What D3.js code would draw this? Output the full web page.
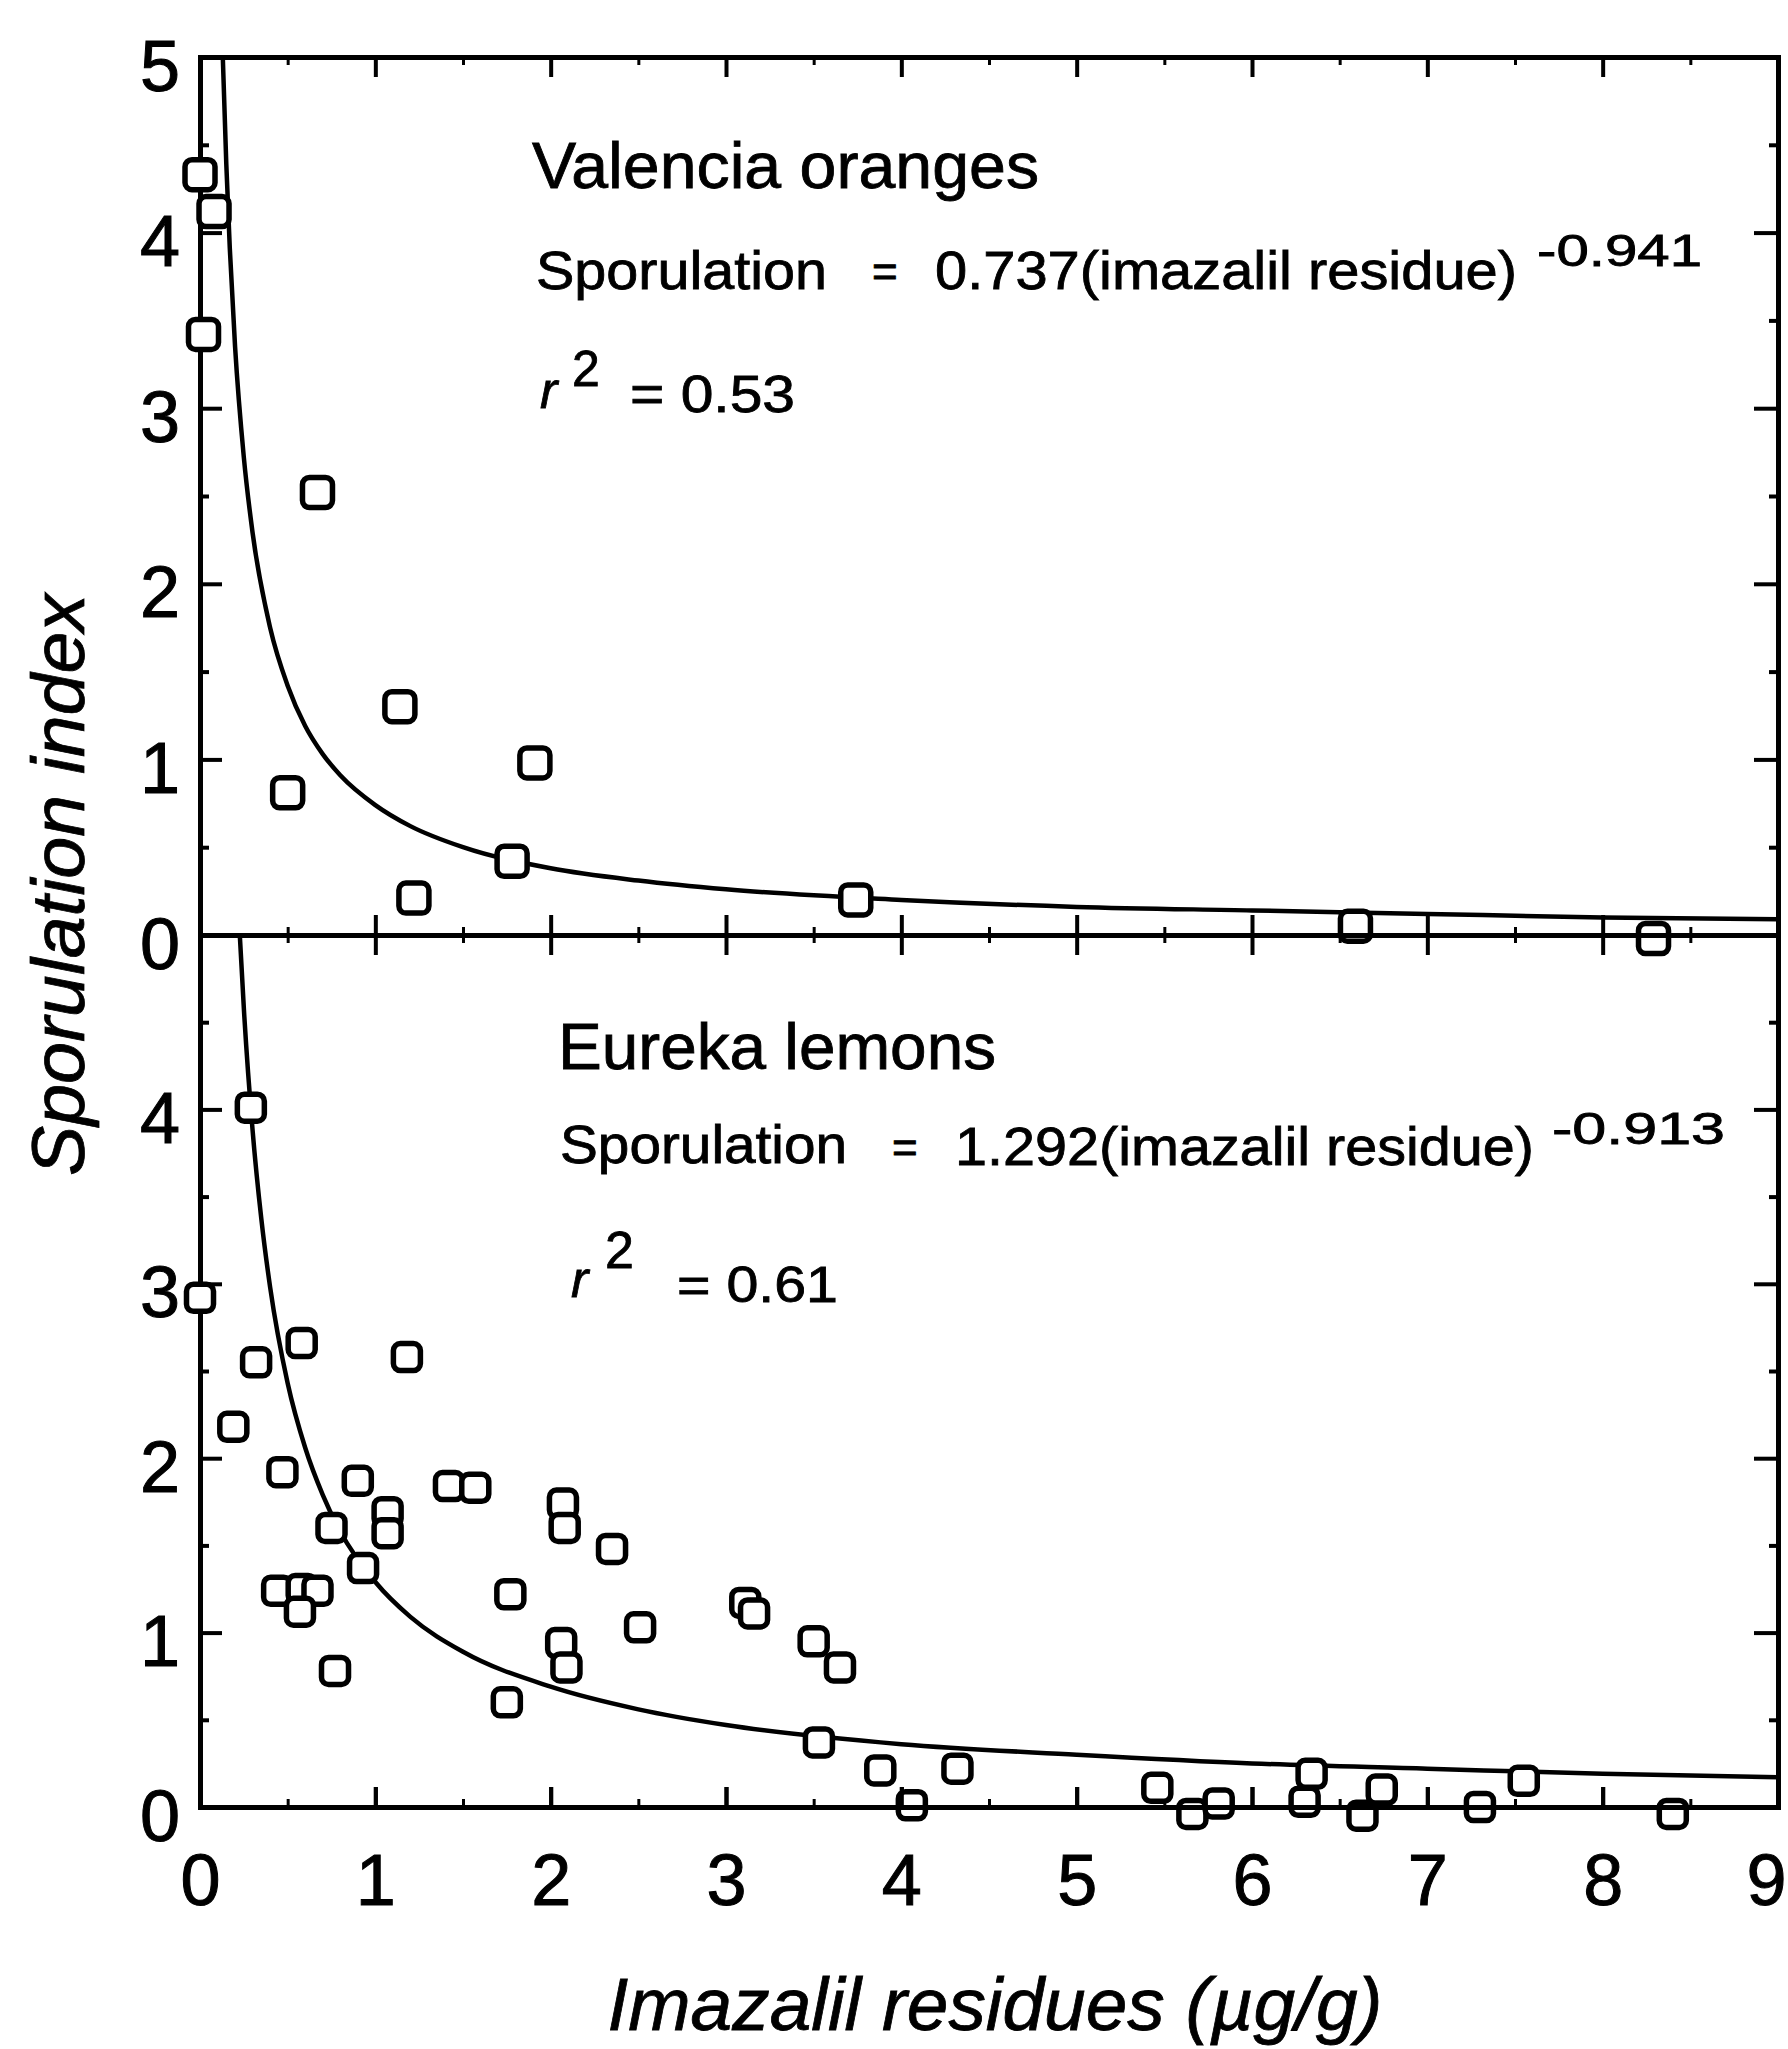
<!DOCTYPE html>
<html>
<head>
<meta charset="utf-8">
<script src="https://cdn.jsdelivr.net/npm/d3@7"></script>
<style>
  body { margin: 0; background: #fff; }
  svg { display: block; }
  .axis path, .axis line { stroke: #000; }
  .axis text { font-family: "Liberation Sans", Arial, sans-serif; fill: #000; stroke: #000; stroke-width: 1; }
  .note { font-family: "Liberation Sans", Arial, sans-serif; fill: #000; stroke: #000; stroke-width: 0.8; }
</style>
</head>
<body>
<script>
// tick values
const xTicks = [0, 1, 2, 3, 4, 5, 6, 7, 8, 9];
const xMinor = [0.5, 1.5, 2.5, 3.5, 4.5, 5.5, 6.5, 7.5, 8.5];
const yTicks = [0, 1, 2, 3, 4, 5];
const yLabelsTop = [0, 1, 2, 3, 4, 5];
const yLabelsBottom = [0, 1, 2, 3, 4];
const yMinor = [0.5, 1.5, 2.5, 3.5, 4.5];

// Valencia oranges (top panel)
const valenciaX = [0.00, 0.08, 0.02, 0.67, 1.14, 1.91, 0.50, 1.78, 1.22, 3.74, 6.59, 8.29];
const valenciaY = [4.33, 4.12, 3.42, 2.52, 1.30, 0.98, 0.81, 0.42, 0.21, 0.20, 0.05, -0.02];
// fitted curve
const valenciaFitX = [0.13, 0.15, 0.17, 0.2, 0.25, 0.3, 0.4, 0.5, 0.6, 0.7, 0.8, 1.0, 1.2, 1.5, 2, 2.5, 3, 4, 5, 6, 7, 8, 9];
const valenciaFitY = [5.0, 4.39, 3.91, 3.35, 2.72, 2.29, 1.75, 1.42, 1.19, 1.03, 0.91, 0.74, 0.62, 0.50, 0.38, 0.31, 0.26, 0.20, 0.16, 0.14, 0.12, 0.10, 0.09];

// Eureka lemons (bottom panel)
const eurekaX = [0.29, 0.00, 0.32, 0.58, 1.18, 0.19, 0.47, 0.90, 1.42, 1.57, 2.07, 2.08, 0.75, 1.07, 1.07,
                 0.93, 0.44, 0.58, 0.67, 0.57, 0.77, 1.77, 2.51, 2.35, 2.06, 2.09, 1.75, 3.11, 3.16, 3.50,
                 3.65, 3.53, 3.88, 4.06, 4.32, 5.46, 5.66, 5.81, 6.34, 6.30, 6.63, 6.74, 7.30, 7.55, 8.40];
const eurekaY = [4.01, 2.92, 2.55, 2.66, 2.58, 2.18, 1.92, 1.87, 1.84, 1.83, 1.74, 1.60, 1.60, 1.69, 1.57,
                 1.37, 1.24, 1.25, 1.24, 1.12, 0.78, 1.22, 1.03, 1.48, 0.94, 0.80, 0.60, 1.17, 1.11, 0.95,
                 0.80, 0.37, 0.21, 0.01, 0.22, 0.11, -0.04, 0.02, 0.19, 0.03, -0.05, 0.10, 0.00, 0.15, -0.04];
const eurekaFitX = [0.227, 0.25, 0.3, 0.35, 0.4, 0.5, 0.6, 0.7, 0.8, 1.0, 1.2, 1.5, 2, 2.5, 3, 4, 5, 6, 7, 8, 9];
const eurekaFitY = [5.0, 4.58, 3.88, 3.37, 2.98, 2.43, 2.06, 1.79, 1.58, 1.29, 1.09, 0.89, 0.69, 0.56, 0.47, 0.36, 0.30, 0.25, 0.22, 0.19, 0.17];

const width = 1788, height = 2049;

let svg = d3.select('body').append('svg')
    .attr('width', width)
    .attr('height', height);

let xScale = d3.scaleLinear().domain([0, 9]).range([200, 1778]);
let yTop = d3.scaleLinear().domain([0, 5]).range([935, 57]);
let yBottom = d3.scaleLinear().domain([0, 5]).range([1807, 935]);

function styleAxis(g, w) {
    g.attr('class', 'axis');
    g.select('.domain').attr('stroke-width', 5);
    g.selectAll('.tick line').attr('stroke-width', w);
}

function panel(yScale, labels, xs, ys, fitX, fitY, size) {
    // left axis with labels
    svg.append('g')
        .attr('transform', 'translate(200,0)')
        .call(d3.axisLeft(yScale).tickValues(labels).tickFormat(d3.format('d'))
                .tickSizeInner(-22).tickSizeOuter(0).tickPadding(20))
        .call(g => styleAxis(g, 4))
        .call(g => g.selectAll('text').attr('font-size', 72).attr('dy', '0.46em'));
    svg.append('g')
        .attr('transform', 'translate(200,0)')
        .call(d3.axisLeft(yScale).tickValues(yMinor).tickSize(-9).tickFormat(''))
        .call(g => styleAxis(g, 4));

    // right axis, ticks only
    svg.append('g')
        .attr('transform', 'translate(1778,0)')
        .call(d3.axisRight(yScale).tickValues(yTicks).tickSizeInner(-24).tickSizeOuter(0).tickFormat(''))
        .call(g => styleAxis(g, 4));
    svg.append('g')
        .attr('transform', 'translate(1778,0)')
        .call(d3.axisRight(yScale).tickValues(yMinor).tickSize(-9).tickFormat(''))
        .call(g => styleAxis(g, 4));

    // top edge, ticks pointing down
    svg.append('g')
        .attr('transform', 'translate(0,' + yScale(5) + ')')
        .call(d3.axisTop(xScale).tickValues(xTicks).tickSizeInner(-20).tickSizeOuter(0).tickFormat(''))
        .call(g => styleAxis(g, 4));
    svg.append('g')
        .attr('transform', 'translate(0,' + yScale(5) + ')')
        .call(d3.axisTop(xScale).tickValues(xMinor).tickSize(-8).tickFormat(''))
        .call(g => styleAxis(g, 3));

    // bottom edge, ticks pointing up
    svg.append('g')
        .attr('transform', 'translate(0,' + yScale(0) + ')')
        .call(d3.axisBottom(xScale).tickValues(xTicks).tickSizeInner(-20).tickSizeOuter(0).tickFormat(''))
        .call(g => styleAxis(g, 4));
    svg.append('g')
        .attr('transform', 'translate(0,' + yScale(0) + ')')
        .call(d3.axisBottom(xScale).tickValues(xMinor).tickSize(-8).tickFormat(''))
        .call(g => styleAxis(g, 3));

    // fitted curve
    let line = d3.line()
        .x(function(d){ return xScale(d[0]); })
        .y(function(d){ return yScale(d[1]); })
        .curve(d3.curveMonotoneX);

    svg.append('path')
        .datum(d3.zip(fitX, fitY))
        .attr('d', line)
        .attr('fill', 'none')
        .attr('stroke', '#000')
        .attr('stroke-width', 4.5);

    // open square markers
    svg.append('g').selectAll('rect')
        .data(d3.zip(xs, ys))
      .enter().append('rect')
        .attr('x', function(d){ return xScale(d[0]) - size / 2; })
        .attr('y', function(d){ return yScale(d[1]) - size / 2; })
        .attr('width', size)
        .attr('height', size)
        .attr('rx', 7)
        .attr('fill', '#fff')
        .attr('stroke', '#000')
        .attr('stroke-width', 5.5);
}

panel(yTop, yLabelsTop, valenciaX, valenciaY, valenciaFitX, valenciaFitY, 30);
panel(yBottom, yLabelsBottom, eurekaX, eurekaY, eurekaFitX, eurekaFitY, 27);

// x tick labels under the lower panel
svg.append('g')
    .attr('transform', 'translate(0,1807)')
    .call(d3.axisBottom(xScale).tickValues(xTicks).tickFormat(d3.format('d'))
            .tickSizeInner(-20).tickSizeOuter(0).tickPadding(47))
    .call(g => styleAxis(g, 4))
    .call(g => g.selectAll('text').attr('font-size', 72))
    // the last label sits at the page edge: keep it inside
    .call(g => g.selectAll('.tick').filter(d => d === 9).select('text')
        .attr('text-anchor', 'end').attr('x', 8));

// annotation text
function note(x, y, str, size, len, italic) {
    let t = svg.append('text')
        .attr('class', 'note')
        .attr('x', x)
        .attr('y', y)
        .attr('font-size', size)
        .text(str);
    if (len) t.attr('textLength', len).attr('lengthAdjust', 'spacingAndGlyphs');
    if (italic) t.attr('font-style', 'italic');
    return t;
}

note(532, 188, 'Valencia oranges', 64, 507);
note(536, 289, 'Sporulation', 53, 291);
note(872, 287, '=', 44);
note(935, 289, '0.737(imazalil residue)', 53, 582);
note(1537, 266, '-0.941', 44, 165);
note(540, 408, 'r', 52, null, true);
note(572, 386, '2', 50);
note(630, 412, '= 0.53', 52, 165);

note(558, 1069, 'Eureka lemons', 64, 438);
note(560, 1163, 'Sporulation', 53, 287);
note(892, 1163, '=', 44);
note(955, 1165, '1.292(imazalil residue)', 53, 579);
note(1552, 1144, '-0.913', 44, 173);
note(571, 1297, 'r', 52, null, true);
note(605, 1268, '2', 52);
note(677, 1302, '=  0.61', 50, 161);

// axis titles
note(995, 2030, 'Imazalil residues (\u00b5g/g)', 74, 775, true)
    .attr('text-anchor', 'middle');

svg.append('text')
    .attr('class', 'note')
    .attr('transform', 'translate(84,885) rotate(-90)')
    .attr('text-anchor', 'middle')
    .attr('font-size', 74)
    .attr('font-style', 'italic')
    .attr('textLength', 582)
    .attr('lengthAdjust', 'spacingAndGlyphs')
    .text('Sporulation index');
</script>
</body>
</html>
